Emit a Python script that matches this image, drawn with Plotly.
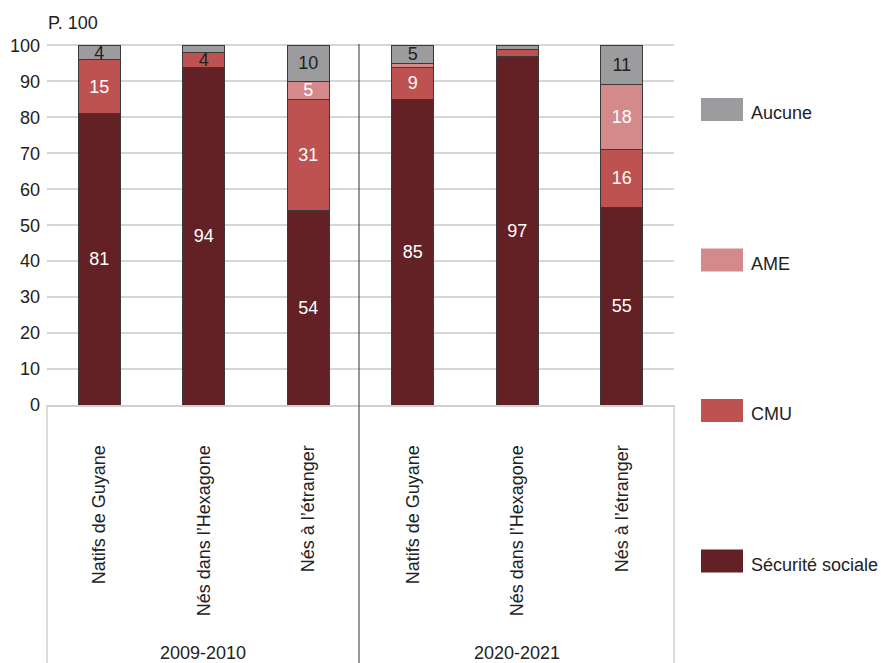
import plotly.graph_objects as go

# ---- data ----
periods = ["2009-2010", "2020-2021"]
groups = ["Natifs de Guyane", "Nés dans l’Hexagone", "Nés à l’étranger"]
securite_sociale = [81, 94, 54, 85, 97, 55]
cmu = [15, 4, 31, 9, 2, 16]
ame = [0, 0, 5, 1, 0, 18]
aucune = [4, 2, 10, 5, 1, 11]
series_names = ["Sécurité sociale", "CMU", "AME", "Aucune"]
y_ticks = list(range(0, 101, 10))

colors = {"Sécurité sociale": "#632126", "CMU": "#BE5250",
          "AME": "#D4898A", "Aucune": "#9C9C9E"}
text_colors = {"Sécurité sociale": "white", "CMU": "white",
               "AME": "white", "Aucune": "#222222"}

x_labels = groups * len(periods)
x_pos = list(range(len(x_labels)))

W, H = 881, 663
L, R, T, B = 47, 674, 44, 405
FS = 18
FONT = "Liberation Sans, Arial, sans-serif"


def px(x):
    return (x - L) / (R - L)


def py(y):
    return (B - y) / (B - T)


fig = go.Figure()
values = {"Sécurité sociale": securite_sociale, "CMU": cmu, "AME": ame, "Aucune": aucune}
for name in series_names:
    vals = values[name]
    texts = [str(v) if v >= 4 else "" for v in vals]
    if name == "CMU":
        tcols = ["#222222" if v < 5 else "white" for v in vals]
    else:
        tcols = [text_colors[name]] * len(vals)
    fig.add_trace(go.Bar(
        x=x_pos, y=vals, name=name,
        marker=dict(color=colors[name], line=dict(color="#3a3a3a", width=1)),
        text=texts, textposition="inside", insidetextanchor="middle",
        textangle=0,
        textfont=dict(size=FS, color=tcols, family=FONT),
        showlegend=False, hoverinfo="skip",
    ))

fig.update_layout(
    barmode="stack", bargap=0.6,
    width=W, height=H,
    margin=dict(l=L, r=W - R, t=T, b=H - B, autoexpand=False),
    plot_bgcolor="white", paper_bgcolor="white",
    font=dict(family=FONT, size=FS, color="#222222"),
    uniformtext=dict(minsize=FS, mode="show"),
)
fig.update_xaxes(
    tickmode="array", tickvals=x_pos, ticktext=x_labels,
    tickangle=-90, range=[-0.5, len(x_pos) - 0.5],
    showgrid=False, showline=True, linecolor="#CFCFCF", linewidth=2,
    ticks="", ticklabelstandoff=31,
    tickfont=dict(size=FS, color="#222222"),
)
fig.update_yaxes(
    range=[0, 100.4], tickvals=y_ticks, showgrid=True,
    gridcolor="#D6D6D6", gridwidth=2, zeroline=False, showline=False,
    ticks="", ticklabelstandoff=6, tickfont=dict(size=FS, color="#222222"),
)

shapes = []
# bottom box lines
for xx in (L, R):
    shapes.append(dict(type="line", xref="paper", yref="paper",
                       x0=px(xx), x1=px(xx), y0=py(B), y1=py(H + 5),
                       line=dict(color="#CFCFCF", width=1.5)))
# divider
shapes.append(dict(type="line", xref="paper", yref="paper",
                   x0=px(359), x1=px(359), y0=py(T), y1=py(H + 5),
                   line=dict(color="#333333", width=1)))

annotations = []
annotations.append(dict(text="P. 100", xref="paper", yref="paper",
                        x=px(46), y=py(23), xanchor="left", yanchor="middle",
                        showarrow=False, font=dict(size=FS, color="#222222")))
for i, p in enumerate(periods):
    cx = (L + 359) / 2 if i == 0 else (359 + R) / 2
    annotations.append(dict(text=p, xref="paper", yref="paper",
                            x=px(cx), y=py(653), xanchor="center", yanchor="middle",
                            showarrow=False, font=dict(size=FS, color="#222222")))

# custom legend
legend_order = ["Aucune", "AME", "CMU", "Sécurité sociale"]
for k, name in enumerate(legend_order):
    top = 98 + k * 150.5
    shapes.append(dict(type="rect", xref="paper", yref="paper",
                       x0=px(701), x1=px(743), y0=py(top), y1=py(top + 23),
                       fillcolor=colors[name], line=dict(width=0)))
    annotations.append(dict(text=name, xref="paper", yref="paper",
                            x=px(749), y=py(top + 15), xanchor="left", yanchor="middle",
                            showarrow=False, font=dict(size=FS, color="#222222")))

fig.update_layout(shapes=shapes, annotations=annotations)
fig.write_html("out.html", config={"displayModeBar": False},
               post_script="document.body.style.margin='0';document.body.style.overflow='hidden';")
